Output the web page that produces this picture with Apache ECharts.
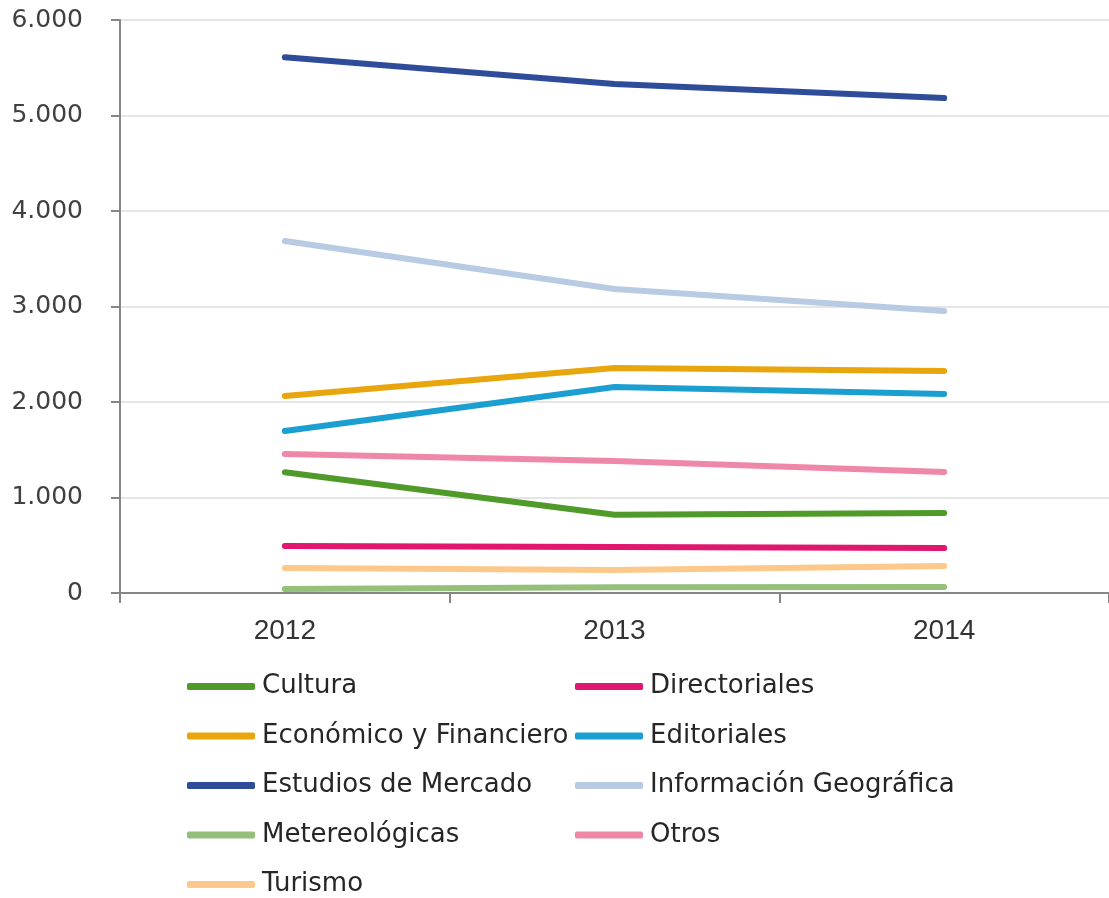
<!DOCTYPE html>
<html><head><meta charset="utf-8">
<script src="https://cdn.jsdelivr.net/npm/echarts@6/dist/echarts.min.js"></script>
<style>html,body{margin:0;padding:0;background:#fff}#c{width:1109px;height:898px}</style>
</head><body><div id="c"></div>
<script>
const years = ['2012','2013','2014'];
const cultura = [1265, 820, 838];
const directoriales = [492, 482, 470];
const economico = [2063, 2356, 2325];
const editoriales = [1696, 2157, 2084];
const estudios = [5610, 5330, 5183];
const informacion = [3686, 3183, 2953];
const metereologicas = [42, 60, 63];
const otros = [1455, 1382, 1267];
const turismo = [262, 241, 283];
const yTicks = [0, 1000, 2000, 3000, 4000, 5000, 6000];

const names = ['Cultura','Directoriales','Económico y Financiero','Editoriales','Estudios de Mercado','Información Geográfica','Metereológicas','Otros','Turismo'];
const values = [cultura, directoriales, economico, editoriales, estudios, informacion, metereologicas, otros, turismo];
const colors = ['#4f9a28','#e0166f','#e8a50c','#1a9fd0','#2f4c9a','#b8cbe3','#94c07a','#ef87a8','#fcc98a'];

const chart = echarts.init(document.getElementById('c'));
const legendBase = {
  orient: 'vertical', itemWidth: 68, itemHeight: 7, itemGap: 18.5, padding: 0,
  height: 400, icon: 'roundRect',
  textStyle: {fontFamily: 'DejaVu Sans', fontSize: 26, lineHeight: 31, color: '#262626', padding: [0,0,0,2]}
};
chart.setOption({
  animation: false,
  color: colors,
  grid: {left: 120, top: 20, right: 0, bottom: 305, containLabel: false},
  legend: [
    Object.assign({}, legendBase, {left: 187, top: 671, data: [names[0], names[2], names[4], names[6], names[8]]}),
    Object.assign({}, legendBase, {left: 575, top: 671, data: [names[1], names[3], names[5], names[7]]})
  ],
  xAxis: {
    type: 'category', data: years, boundaryGap: true,
    axisLine: {lineStyle: {color: '#868686', width: 2}},
    axisTick: {show: true, length: 10, lineStyle: {color: '#868686', width: 2}},
    axisLabel: {fontFamily: 'Liberation Sans Narrow, Liberation Sans', fontSize: 28, color: '#333', margin: 24}
  },
  yAxis: {
    type: 'value', min: 0, max: 6000, interval: 1000,
    axisLine: {show: true, lineStyle: {color: '#868686', width: 2}},
    axisTick: {show: true, length: 9, lineStyle: {color: '#868686', width: 2}},
    splitLine: {lineStyle: {color: '#dcdcdc', width: 1.5}},
    axisLabel: {fontFamily: 'DejaVu Sans', fontSize: 25, color: '#404040', margin: 37,
      formatter: v => yTicks.includes(v) ? (v === 0 ? '0' : (v/1000) + '.000') : ''}
  },
  series: names.map((n, i) => ({
    name: n, type: 'line', data: values[i], symbol: 'none',
    lineStyle: {width: 6, color: colors[i], cap: 'round', join: 'round'},
    itemStyle: {color: colors[i]}
  }))
});
</script></body></html>
